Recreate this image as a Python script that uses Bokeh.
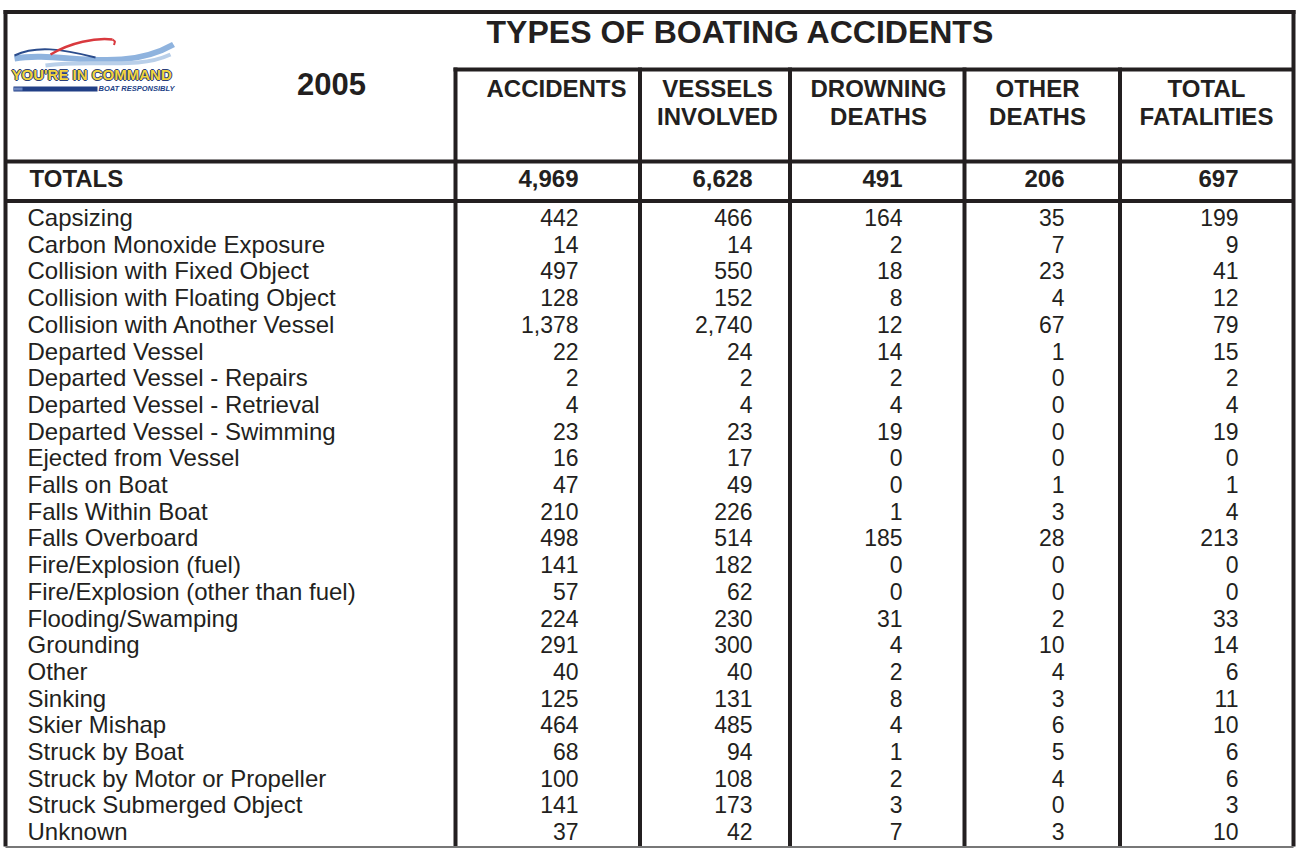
from bokeh.plotting import figure
from bokeh.models import Range1d
from bokeh.core.properties import value
from bokeh.embed import file_html
from bokeh.resources import INLINE

# ---------------- data ----------------
TITLE = "TYPES OF BOATING ACCIDENTS"
YEAR = "2005"
TOTALS_LABEL = "TOTALS"
header_line1 = ["ACCIDENTS", "VESSELS", "DROWNING", "OTHER", "TOTAL"]
header_line2 = ["", "INVOLVED", "DEATHS", "DEATHS", "FATALITIES"]

accident_types = [
    "Capsizing", "Carbon Monoxide Exposure", "Collision with Fixed Object",
    "Collision with Floating Object", "Collision with Another Vessel",
    "Departed Vessel", "Departed Vessel - Repairs", "Departed Vessel - Retrieval",
    "Departed Vessel - Swimming", "Ejected from Vessel", "Falls on Boat",
    "Falls Within Boat", "Falls Overboard", "Fire/Explosion (fuel)",
    "Fire/Explosion (other than fuel)", "Flooding/Swamping", "Grounding", "Other",
    "Sinking", "Skier Mishap", "Struck by Boat", "Struck by Motor or Propeller",
    "Struck Submerged Object", "Unknown",
]
accidents = [442, 14, 497, 128, 1378, 22, 2, 4, 23, 16, 47, 210, 498, 141, 57,
             224, 291, 40, 125, 464, 68, 100, 141, 37]
vessels = [466, 14, 550, 152, 2740, 24, 2, 4, 23, 17, 49, 226, 514, 182, 62,
           230, 300, 40, 131, 485, 94, 108, 173, 42]
drowning_deaths = [164, 2, 18, 8, 12, 14, 2, 4, 19, 0, 0, 1, 185, 0, 0,
                   31, 4, 2, 8, 4, 1, 2, 3, 7]
other_deaths = [35, 7, 23, 4, 67, 1, 0, 0, 0, 0, 1, 3, 28, 0, 0,
                2, 10, 4, 3, 6, 5, 4, 0, 3]
total_fatalities = [199, 9, 41, 12, 79, 15, 2, 4, 19, 0, 1, 4, 213, 0, 0,
                    33, 14, 6, 11, 10, 6, 6, 3, 10]
totals = [4969, 6628, 491, 206, 697]

columns = [accidents, vessels, drowning_deaths, other_deaths, total_fatalities]

# ---------------- layout ----------------
INK = "#231f20"
FONT = value("Liberation Sans")
W, H = 1297, 848

col_edges = [455, 639.5, 789.5, 964, 1119.5]   # inner vertical rules
col_right = [578, 752, 902, 1064, 1238]        # right edge of numbers
head_cx = [556, 717, 878, 1037, 1206]
row_mid0, row_step = 217, 26.7                 # visual centre of first data row
LEFT, RIGHT, TOP, BOTTOM = 5, 1293, 11.5, 846

p = figure(width=W, height=H, x_range=Range1d(0, W), y_range=Range1d(H, 0),
           output_backend="svg", toolbar_location=None, min_border=0,
           x_axis_location=None, y_axis_location=None)
p.grid.visible = False
p.outline_line_color = None
p.background_fill_color = "white"
p.border_fill_color = "white"

# ---------------- logo ----------------
p.bezier(x0=[14], y0=[58], x1=[173], y1=[44], cx0=[60], cy0=[50], cx1=[120], cy1=[74],
         line_color="#8fb3de", line_width=6)
p.bezier(x0=[45], y0=[65], x1=[170], y1=[54], cx0=[95], cy0=[58], cx1=[135], cy1=[70],
         line_color="#b9cfe9", line_width=4)
p.bezier(x0=[14], y0=[55], x1=[95], y1=[57], cx0=[35], cy0=[45], cx1=[60], cy1=[48],
         line_color="#2b4c8c", line_width=2)
p.bezier(x0=[50], y0=[54], x1=[112], y1=[39], cx0=[70], cy0=[42], cx1=[95], cy1=[37],
         line_color="#d9393e", line_width=2.4)
p.line(x=[112, 114.5, 113.5], y=[39, 41, 44.5], line_color="#d9393e", line_width=2)
for dx, dy in [(-1, 0), (1, 0), (0, -1), (0, 1)]:
    p.text(x=[11 + dx], y=[73.5 + dy], text=["YOU'RE IN COMMAND"], text_font=FONT,
           text_font_size="15px", text_font_style="bold", text_color="#2a3f7a",
           text_align="left", text_baseline="alphabetic")
p.text(x=[11], y=[73.5], text=["YOU'RE IN COMMAND"], text_font=FONT,
       text_font_size="15px", text_font_style="bold", text_color="#f2d53c",
       text_align="left", text_baseline="alphabetic")
p.quad(left=[13], right=[97], top=[86], bottom=[91], fill_color="#213f86", line_color=None)
p.quad(left=[13], right=[22], top=[87], bottom=[90], fill_color="#6d86c0", line_color=None)
p.text(x=[98], y=[88], text=["BOAT RESPONSIBLY"], text_font=FONT, text_font_size="7.5px",
       text_font_style="bold italic", text_color="#213f86", text_align="left",
       text_baseline="alphabetic")

# ---------------- rules ----------------
x0s, y0s, x1s, y1s = [], [], [], []
def seg(a, b, c, d):
    x0s.append(a); y0s.append(b); x1s.append(c); y1s.append(d)

seg(LEFT - 2, TOP, RIGHT + 2, TOP)          # top border
seg(LEFT, TOP - 2, LEFT, BOTTOM)            # left border
seg(RIGHT, TOP - 2, RIGHT, BOTTOM)          # right border
seg(col_edges[0] - 2, 69, RIGHT, 69)        # title bottom
seg(LEFT, 161, RIGHT, 161)                  # header bottom
seg(LEFT, 200.5, RIGHT, 200.5)              # totals bottom
for xe in col_edges:
    seg(xe, 67, xe, BOTTOM)
p.segment(x0=x0s, y0=y0s, x1=x1s, y1=y1s, line_color=INK, line_width=4)
p.segment(x0=[LEFT], y0=[846.5], x1=[RIGHT], y1=[846.5], line_color="#777777", line_width=2)

# ---------------- texts ----------------
p.text(x=[740], y=[31.5], text=[TITLE], text_font=FONT, text_font_size="32px",
       text_font_style="bold", text_color=INK, text_align="center", text_baseline="alphabetic")
p.text(x=[331], y=[83.5], text=[YEAR], text_font=FONT, text_font_size="31px",
       text_font_style="bold", text_color=INK, text_align="center", text_baseline="alphabetic")
p.text(x=head_cx, y=[87.5] * 5, text=header_line1, text_font=FONT, text_font_size="24px",
       text_font_style="bold", text_color=INK, text_align="center", text_baseline="alphabetic")
p.text(x=head_cx, y=[115.5] * 5, text=header_line2, text_font=FONT, text_font_size="24px",
       text_font_style="bold", text_color=INK, text_align="center", text_baseline="alphabetic")

p.text(x=[29], y=[177.5], text=[TOTALS_LABEL], text_font=FONT, text_font_size="24px",
       text_font_style="bold", text_color=INK, text_align="left", text_baseline="alphabetic")
p.text(x=col_right, y=[177.5] * 5, text=[f"{v:,}" for v in totals], text_font=FONT,
       text_font_size="24px", text_font_style="bold", text_color=INK,
       text_align="right", text_baseline="alphabetic")

row_y = [row_mid0 + row_step * i for i in range(len(accident_types))]
p.text(x=[27] * len(accident_types), y=row_y, text=accident_types, text_font=FONT,
       text_font_size="24px", text_color=INK, text_align="left", text_baseline="alphabetic")
for xr, vals in zip(col_right, columns):
    p.text(x=[xr] * len(vals), y=row_y, text=[f"{v:,}" for v in vals], text_font=FONT,
           text_font_size="23px", text_color=INK, text_align="right",
           text_baseline="alphabetic")

open("out.html", "w").write(file_html(p, INLINE))
